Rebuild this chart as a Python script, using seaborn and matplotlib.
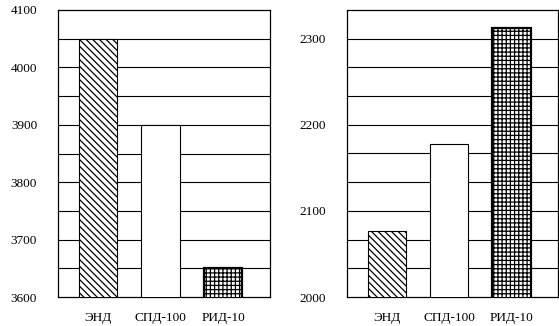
import matplotlib
matplotlib.use("Agg")
import matplotlib.pyplot as plt
import seaborn as sns
import pandas as pd

categories = ["ЭНД", "СПД-100", "РИД-10"]
left_values = [4050, 3900, 3650]
right_values = [2077, 2178, 2312]
left_yticks = [3600, 3700, 3800, 3900, 4000, 4100]
right_yticks = [2000, 2100, 2200, 2300]

sns.set_theme(style="white")
plt.rcParams["font.family"] = ["Liberation Serif", "DejaVu Serif"]
plt.rcParams["hatch.linewidth"] = 0.9
plt.rcParams["hatch.color"] = "black"

fig = plt.figure(figsize=(5.59, 3.26), dpi=100)
ax1 = fig.add_axes([58/559, 29/326, 212/559, 287/326])
ax2 = fig.add_axes([347/559, 29/326, 211/559, 287/326])

hatches = ["\\" * 5, "", "++++"]
edge_w = [0.8, 0.8, 1.6]

def draw(ax, values, ylim, yticks, grid_step):
    df = pd.DataFrame({"cat": categories, "val": values})
    sns.barplot(data=df, x="cat", y="val", ax=ax, color="white",
                edgecolor="black", width=0.61, saturation=1, zorder=3)
    for p, h, lw in zip(ax.patches, hatches, edge_w):
        p.set_hatch(h)
        p.set_facecolor("white")
        p.set_edgecolor("black")
        p.set_linewidth(lw)
    ax.set_ylim(*ylim)
    ax.set_xlim(-0.635, 2.745)
    ax.set_yticks(yticks)
    ax.set_yticklabels([str(t) for t in yticks])
    g = ylim[0] + grid_step
    while g < ylim[1] - 1e-6:
        ax.axhline(g, color="black", lw=0.8, zorder=1)
        g += grid_step
    ax.set_xlabel("")
    ax.set_ylabel("")
    for s in ax.spines.values():
        s.set_color("black")
        s.set_linewidth(0.9)
        s.set_visible(True)
    ax.tick_params(axis="y", length=0, pad=15, labelsize=9.5, colors="black")
    ax.tick_params(axis="x", length=0, pad=11, labelsize=9.5, colors="black")
    ax.set_facecolor("white")

draw(ax1, left_values, (3600, 4100), left_yticks, 50)
draw(ax2, right_values, (2000, 2000 + 1000 / 3), right_yticks, 100 / 3)

fig.savefig("out.png", dpi=100, facecolor="white")
